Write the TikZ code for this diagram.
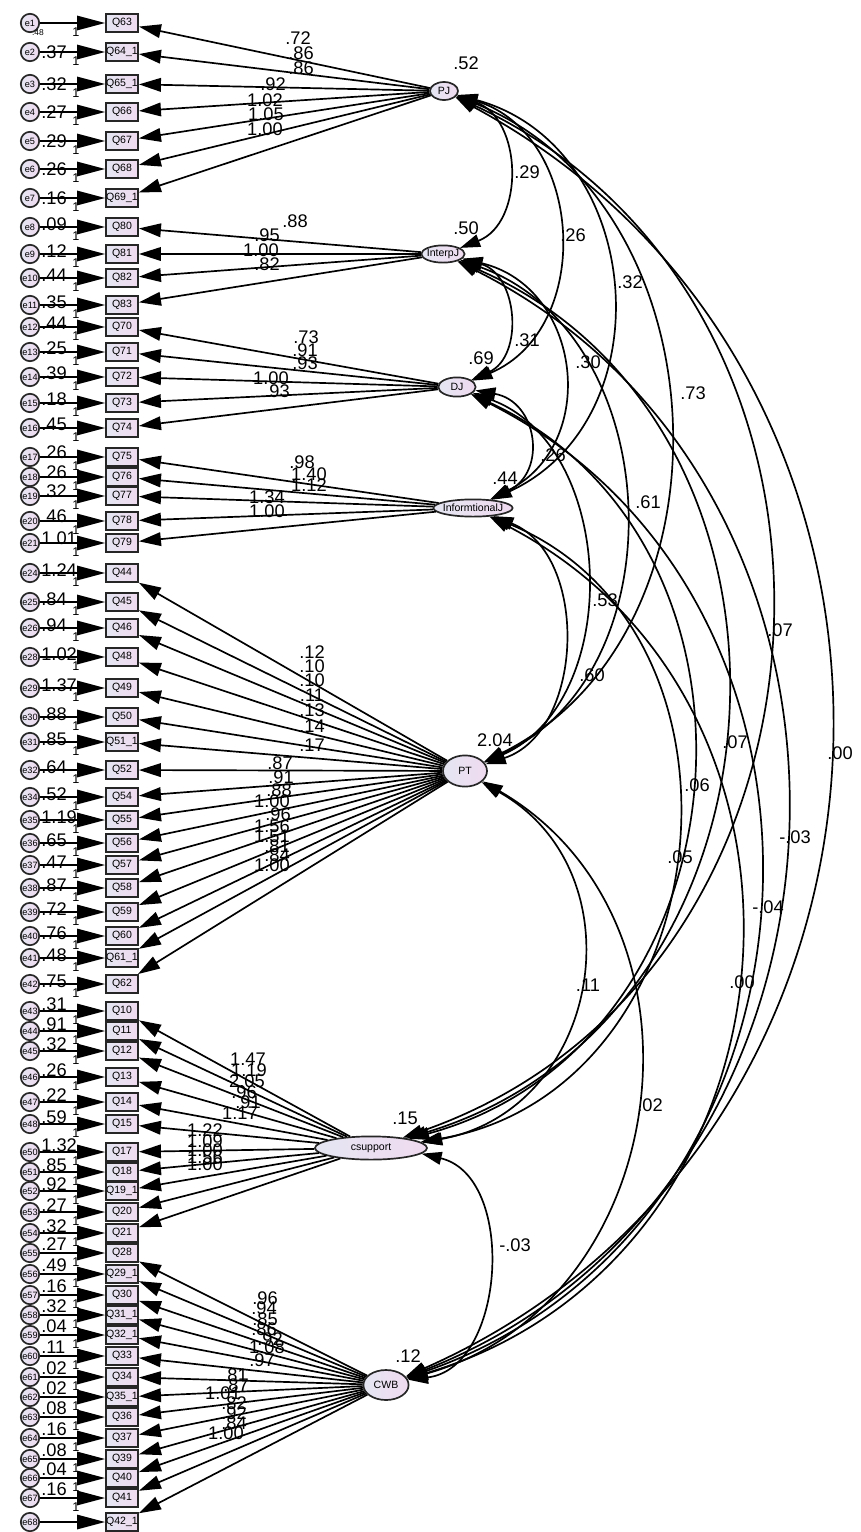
\documentclass[tikz,border=0pt]{standalone}
\usepackage{fontspec}
\setmainfont{Liberation Sans}
\usetikzlibrary{arrows.meta,shapes.geometric}

\definecolor{boxL}{RGB}{228,230,242}
\definecolor{boxR}{RGB}{240,218,240}

\tikzset{
  obs/.style={draw=black!85, line width=1.3pt, left color=boxL, right color=boxR, minimum width=0.8cm, minimum height=0.45cm, inner sep=0pt, font=\fontsize{7.5}{8}\selectfont},
  err/.style={circle, draw=black!85, line width=1.2pt, left color=boxL, right color=boxR, minimum size=0.46cm, inner sep=0pt, font=\fontsize{6.5}{7}\selectfont},
  lat/.style={ellipse, draw=black!85, line width=1.2pt, left color=boxL, right color=boxR, inner sep=0pt},
  lattxt/.style={font=\fontsize{7.5}{8}\selectfont, inner sep=0pt},
  num/.style={font=\fontsize{13}{13}\selectfont, inner sep=0pt},
  one/.style={font=\fontsize{9}{9}\selectfont, inner sep=0pt},
  unit/.style={-{Triangle[length=0.7cm,width=0.36cm]}, line width=1.2pt},
  load/.style={-{Triangle[length=0.55cm,width=0.34cm]}, line width=1.2pt},
  cov/.style={{Triangle[length=0.5cm,width=0.32cm]}-{Triangle[length=0.5cm,width=0.32cm]}, line width=1.2pt},
}

\begin{document}
\begin{tikzpicture}[x=0.025cm, y=-0.025cm]
    \useasboundingbox (0,0) rectangle (861,1532);

    % latent factors
    \node[lat, minimum width=0.7cm, minimum height=0.45cm, label={[lattxt]center:PJ}] (PJ) at (444,91) {};
    \node[lat, minimum width=1.08cm, minimum height=0.43cm, label={[lattxt]center:InterpJ}] (InterpJ) at (443,254) {};
    \node[lat, minimum width=0.93cm, minimum height=0.48cm, label={[lattxt]center:DJ}] (DJ) at (457,387) {};
    \node[lat, minimum width=1.98cm, minimum height=0.43cm, label={[lattxt]center:InformtionalJ}] (InfoJ) at (473,508) {};
    \node[lat, minimum width=1.1cm, minimum height=0.78cm, label={[lattxt]center:PT}] (PT) at (465,771) {};
    \node[lat, minimum width=2.8cm, minimum height=0.58cm, label={[lattxt]center:csupport}] (cs) at (371,1148) {};
    \node[lat, minimum width=1.13cm, minimum height=0.75cm, label={[lattxt]center:CWB}] (CWB) at (386,1385) {};

    \node[num] at (466,63) {.52};
    \node[num] at (466,228) {.50};
    \node[num] at (481,358) {.69};
    \node[num] at (505,478) {.44};
    \node[num] at (495,740) {2.04};
    \node[num] at (405,1118) {.15};
    \node[num] at (408,1356) {.12};

    % items, errors and loadings
    \foreach \n/\t/\e/\y/\v/\dy/\l/\w/\lx/\ly in {
        q63/Q63/1/23/{}/0/PJ/.72/298/38,
        q64/Q64\_1/2/52/.37/0/PJ/.86/301/53,
        q65/Q65\_1/3/84/.32/0/PJ/.86/301/68,
        q66/Q66/4/112/.27/0/PJ/.92/273/84,
        q67/Q67/5/141/.29/0/PJ/1.02/265/100,
        q68/Q68/6/169/.26/0/PJ/1.05/266/114,
        q69/Q69\_1/7/198/.16/0/PJ/1.00/265/129,
        q80/Q80/8/227/.09/-3/InterpJ/.88/295/221,
        q81/Q81/9/254/.12/-3/InterpJ/.95/267/235,
        q82/Q82/10/278/.44/-3/InterpJ/1.00/261/250,
        q83/Q83/11/305/.35/-3/InterpJ/.82/267/264,
        q70/Q70/12/327/.44/-4/DJ/.73/306/337,
        q71/Q71/13/352/.25/-4/DJ/.91/305/350,
        q72/Q72/14/377/.39/-4/DJ/.93/305/363,
        q73/Q73/15/403/.18/-4/DJ/1.00/271/378,
        q74/Q74/16/428/.45/-4/DJ/.93/277/391,
        q75/Q75/17/457/.26/-5/InfoJ/.98/302/462,
        q76/Q76/18/477/.26/-5/InfoJ/1.40/309/474,
        q77/Q77/19/496/.32/-5/InfoJ/1.12/309/485,
        q78/Q78/20/521/.46/-5/InfoJ/1.34/267/497,
        q79/Q79/21/543/1.01/-5/InfoJ/1.00/267/511,
        q44/Q44/24/573/1.24/-3/PT/.12/312/652,
        q45/Q45/25/602/.84/-3/PT/.10/312/666,
        q46/Q46/26/628/.94/-3/PT/.10/312/680,
        q48/Q48/28/657/1.02/-3/PT/.11/312/695,
        q49/Q49/29/688/1.37/-3/PT/.13/312/710,
        q50/Q50/30/717/.88/-3/PT/.14/312/726,
        q51/Q51\_1/31/742/.85/-3/PT/.17/312/745,
        q52/Q52/32/770/.64/-3/PT/.87/280/763,
        q54/Q54/34/797/.52/-3/PT/.91/281/777,
        q55/Q55/35/820/1.19/-3/PT/.88/279/790,
        q56/Q56/36/843/.65/-3/PT/1.00/272/801,
        q57/Q57/37/865/.47/-3/PT/.96/278/814,
        q58/Q58/38/888/.87/-3/PT/1.56/272/826,
        q59/Q59/39/912/.72/-3/PT/1.51/272/836,
        q60/Q60/40/936/.76/-3/PT/.81/277/846,
        q61/Q61\_1/41/958/.48/-3/PT/.84/277/855,
        q62/Q62/42/984/.75/-3/PT/1.00/272/865,
        q10/Q10/43/1011/.31/-7/cs/1.47/248/1059,
        q11/Q11/44/1031/.91/-7/cs/1.19/249/1070,
        q12/Q12/45/1051/.32/-7/cs/2.05/247/1081,
        q13/Q13/46/1077/.26/-7/cs/.96/244/1092,
        q14/Q14/47/1102/.22/-7/cs/.91/248/1102,
        q15/Q15/48/1124/.59/-7/cs/1.17/240/1113,
        q17/Q17/50/1152/1.32/-7/cs/1.22/205/1130,
        q18/Q18/51/1172/.85/-7/cs/1.09/205/1141,
        q19/Q19\_1/52/1191/.92/-7/cs/1.00/205/1150,
        q20/Q20/53/1212/.27/-7/cs/1.56/205/1157,
        q21/Q21/54/1233/.32/-7/cs/1.00/205/1164,
        q28/Q28/55/1253/.27/-9/CWB/.96/265/1298,
        q29/Q29\_1/56/1274/.49/-9/CWB/.94/264/1308,
        q30/Q30/57/1295/.16/-9/CWB/.85/265/1319,
        q31/Q31\_1/58/1315/.32/-9/CWB/.86/264/1329,
        q32/Q32\_1/59/1335/.04/-9/CWB/.92/270/1339,
        q33/Q33/60/1356/.11/-9/CWB/1.08/267/1347,
        q34/Q34/61/1377/.02/-9/CWB/.97/262/1360,
        q35/Q35\_1/62/1397/.02/-9/CWB/.81/235/1375,
        q36/Q36/63/1417/.08/-9/CWB/.87/236/1385,
        q37/Q37/64/1438/.16/-9/CWB/1.01/223/1393,
        q39/Q39/65/1459/.08/-9/CWB/.82/234/1403,
        q40/Q40/66/1478/.04/-9/CWB/.92/234/1413,
        q41/Q41/67/1498/.16/-9/CWB/.84/234/1423,
        q42/Q42\_1/68/1522/{}/-9/CWB/1.00/226/1433}
    {
        \node[obs] (\n) at (122,\y) {\t};
        \node[err] (e\e) at (30,\y) {e\e};
        \draw[unit] (e\e) -- (\n);
        \node[num, anchor=west] at (41,{\y+(\dy)}) {\v};
        \ifnum\e<68 \node[one] at (76,{\y+9}) {1}; \fi
        \draw[load] (\l) -- (\n);
        \node[num] at (\lx,\ly) {\w};
    }
    \node[font=\fontsize{6}{6}\selectfont] at (38,33) {.48};

    % covariances
    \foreach \a/\b/\ang/\lo/\t/\lx/\ly in {
        PJ/InterpJ/70/1.17/.29/527/172,
        PJ/DJ/70/1.19/.26/573/235,
        PJ/InfoJ/70/1.22/.32/630/282,
        PJ/PT/66/1.11/.73/693/393,
        PJ/cs/68/1.20/.07/780/630,
        PJ/CWB/64/1.18/.00/840/753,
        InterpJ/DJ/70/1.22/.31/527/340,
        InterpJ/InfoJ/70/1.30/.30/588/362,
        InterpJ/PT/68/1.11/.61/648/502,
        InterpJ/cs/70/1.21/.07/735/742,
        InterpJ/CWB/66/1.18/-.03/795/837,
        DJ/InfoJ/72/1.47/.26/553/455,
        DJ/PT/68/1.06/.53/605/600,
        DJ/cs/70/1.22/.06/697/785,
        DJ/CWB/67/1.20/-.04/768/907,
        InfoJ/PT/70/1.07/.60/592/675,
        InfoJ/cs/74/1.24/.05/680/857,
        InfoJ/CWB/68/1.23/.00/742/982,
        PT/cs/70/1.28/.11/588/985,
        PT/CWB/67/1.18/.02/650/1105,
        cs/CWB/80/1.11/-.03/515/1245}
    {
        \draw[cov] (\a) to[bend left=\ang, looseness=\lo] (\b);
        \node[num] at (\lx,\ly) {\t};
    }
\end{tikzpicture}
\end{document}
